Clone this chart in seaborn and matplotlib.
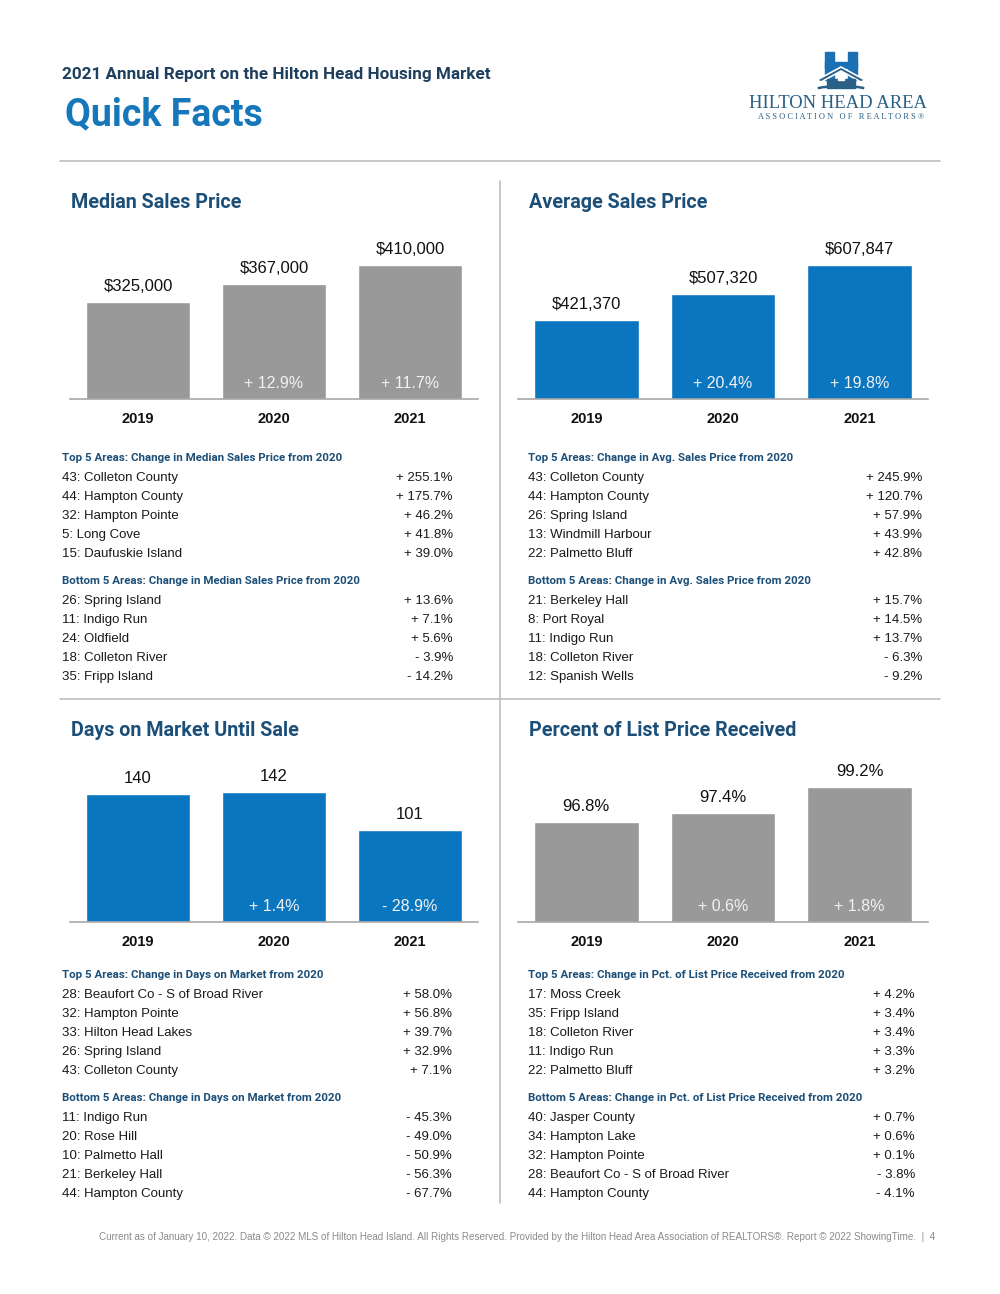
import matplotlib
matplotlib.use("Agg")
import matplotlib.pyplot as plt
import matplotlib.patches as mpatches
import seaborn as sns
import pandas as pd

sns.set_theme(style="white")
plt.rcParams['font.family'] = ['Liberation Sans', 'DejaVu Sans']

# ---------------- data ----------------
years = ["2019", "2020", "2021"]

median_price = [325000, 367000, 410000]
median_price_labels = ["$325,000", "$367,000", "$410,000"]
median_change = ["", "+ 12.9%", "+ 11.7%"]

avg_price = [421370, 507320, 607847]
avg_price_labels = ["$421,370", "$507,320", "$607,847"]
avg_change = ["", "+ 20.4%", "+ 19.8%"]

days_on_market = [140, 142, 101]
days_labels = ["140", "142", "101"]
days_change = ["", "+ 1.4%", "- 28.9%"]

pct_list = [96.8, 97.4, 99.2]
pct_list_labels = ["96.8%", "97.4%", "99.2%"]
pct_change = ["", "+ 0.6%", "+ 1.8%"]

median_top_areas = ["43: Colleton County", "44: Hampton County", "32: Hampton Pointe", "5: Long Cove", "15: Daufuskie Island"]
median_top_vals = ["+ 255.1%", "+ 175.7%", "+ 46.2%", "+ 41.8%", "+ 39.0%"]
median_bot_areas = ["26: Spring Island", "11: Indigo Run", "24: Oldfield", "18: Colleton River", "35: Fripp Island"]
median_bot_vals = ["+ 13.6%", "+ 7.1%", "+ 5.6%", "- 3.9%", "- 14.2%"]

avg_top_areas = ["43: Colleton County", "44: Hampton County", "26: Spring Island", "13: Windmill Harbour", "22: Palmetto Bluff"]
avg_top_vals = ["+ 245.9%", "+ 120.7%", "+ 57.9%", "+ 43.9%", "+ 42.8%"]
avg_bot_areas = ["21: Berkeley Hall", "8: Port Royal", "11: Indigo Run", "18: Colleton River", "12: Spanish Wells"]
avg_bot_vals = ["+ 15.7%", "+ 14.5%", "+ 13.7%", "- 6.3%", "- 9.2%"]

dom_top_areas = ["28: Beaufort Co - S of Broad River", "32: Hampton Pointe", "33: Hilton Head Lakes", "26: Spring Island", "43: Colleton County"]
dom_top_vals = ["+ 58.0%", "+ 56.8%", "+ 39.7%", "+ 32.9%", "+ 7.1%"]
dom_bot_areas = ["11: Indigo Run", "20: Rose Hill", "10: Palmetto Hall", "21: Berkeley Hall", "44: Hampton County"]
dom_bot_vals = ["- 45.3%", "- 49.0%", "- 50.9%", "- 56.3%", "- 67.7%"]

plp_top_areas = ["17: Moss Creek", "35: Fripp Island", "18: Colleton River", "11: Indigo Run", "22: Palmetto Bluff"]
plp_top_vals = ["+ 4.2%", "+ 3.4%", "+ 3.4%", "+ 3.3%", "+ 3.2%"]
plp_bot_areas = ["40: Jasper County", "34: Hampton Lake", "32: Hampton Pointe", "28: Beaufort Co - S of Broad River", "44: Hampton County"]
plp_bot_vals = ["+ 0.7%", "+ 0.6%", "+ 0.1%", "- 3.8%", "- 4.1%"]

# ---------------- styling ----------------
W, H = 1000, 1294
BLUE_BAR = "#0b76c0"
GRAY_BAR = "#999999"
TITLE_NAVY = "#1c4f78"
HEAD_NAVY = "#1e3f5e"
QF_BLUE = "#1677bb"
LOGO_BLUE = "#1a70b2"
LOGO_DARK = "#2a5f86"
LINE_GRAY = "#bdbdbd"
COND = ['Roboto', 'DejaVu Sans']
SERIF = ['Liberation Serif', 'DejaVu Serif']

fig = plt.figure(figsize=(W / 100, H / 100), dpi=100)
fig.patch.set_facecolor("white")


def px_axes(x0, y0, x1, y1):
    return fig.add_axes([x0 / W, 1 - y1 / H, (x1 - x0) / W, (y1 - y0) / H])


def ftext(x, y, s, **kw):
    fig.text(x / W, 1 - y / H, s, **kw)


# header
ftext(62, 75, "2021 Annual Report on the Hilton Head Housing Market", fontsize=12.3,
      fontweight="bold", color=HEAD_NAVY, va="center", ha="left", family=COND)
ftext(65, 115, "Quick Facts", fontsize=27, fontweight="bold", color=QF_BLUE,
      va="center", ha="left", family=COND)

# logo + dividers (decoration layer in pixel coordinates)
lg = fig.add_axes([0, 0, 1, 1], zorder=-1)
lg.set_xlim(0, W)
lg.set_ylim(H, 0)
lg.axis("off")
lg.add_patch(mpatches.Rectangle((825, 52), 9, 28, color=LOGO_BLUE))
lg.add_patch(mpatches.Rectangle((848, 52), 9, 28, color=LOGO_BLUE))
lg.add_patch(mpatches.Rectangle((825, 62), 32, 6, color=LOGO_BLUE))
lg.add_patch(mpatches.Polygon([(817, 80), (841, 67), (865, 80), (861, 82), (841, 71), (821, 82)],
                              facecolor=LOGO_DARK, edgecolor="white", lw=1.2))
lg.add_patch(mpatches.Rectangle((827, 79), 28, 9, color=LOGO_DARK))
lg.add_patch(mpatches.Rectangle((838, 76), 6, 4, color="white"))
lg.add_patch(mpatches.Arc((841, 99), 84, 26, theta1=205, theta2=335, color=LOGO_DARK, lw=1.8))
lg.text(749, 103, "HILTON HEAD AREA", fontsize=13.4, color=LOGO_DARK, ha="left", va="center",
        family=SERIF)
lg.text(841, 117, "A S S O C I A T I O N   O F   R E A L T O R S ®", fontsize=6.0, color=LOGO_DARK,
        ha="center", va="center", family=SERIF)

lg.plot([60, 940], [161, 161], color=LINE_GRAY, lw=1.2)
lg.plot([60, 940], [699, 699], color=LINE_GRAY, lw=1.2)
lg.plot([500, 500], [181, 1203], color=LINE_GRAY, lw=1.2)

# footer
ftext(517, 1237, "Current as of January 10, 2022. Data © 2022 MLS of Hilton Head Island. All Rights Reserved. "
      "Provided by the Hilton Head Area Association of REALTORS®. Report © 2022 ShowingTime.  |  4",
      fontsize=7.1, color="#8a8a8a", ha="center", va="center")


def bar_panel(x0, x1, ytop, ybase, values, vlabels, clabels, color, ylim, title, tx, title_y):
    ax = px_axes(x0, ytop, x1, ybase)
    df = pd.DataFrame({"year": years, "value": values})
    sns.barplot(data=df, x="year", y="value", ax=ax, color=color, saturation=1,
                width=0.765, errorbar=None)
    ax.set_xlim(-0.5, 2.5)
    ax.set_ylim(*ylim)
    for sp in ["top", "left", "right"]:
        ax.spines[sp].set_visible(False)
    ax.spines["bottom"].set_color("#a8a8a8")
    ax.spines["bottom"].set_linewidth(1.2)
    ax.set_yticks([])
    ax.set_xlabel("")
    ax.set_ylabel("")
    ax.tick_params(axis="x", length=0, pad=9)
    for t in ax.get_xticklabels():
        t.set_fontweight("bold")
        t.set_fontsize(10.5)
        t.set_color("#111111")
    ax.patch.set_alpha(0)
    for i, (v, lab, ch) in enumerate(zip(values, vlabels, clabels)):
        ax.annotate(lab, (i, v), xytext=(0, 8), textcoords="offset points",
                    ha="center", va="baseline", fontsize=12, color="#111111")
        if ch:
            ax.annotate(ch, (i, ylim[0]), xytext=(0, 8), textcoords="offset points",
                        ha="center", va="baseline", fontsize=11.5, color="#f2f2f2")
    ftext(tx, title_y, title, fontsize=14.2, fontweight="bold", color=TITLE_NAVY,
          va="center", ha="left", family=COND)
    return ax


def table(xl, xr, y_head1, head1, areas1, vals1, y_head2, head2, areas2, vals2):
    for yh, head, areas, vals in [(y_head1, head1, areas1, vals1), (y_head2, head2, areas2, vals2)]:
        ftext(xl, yh + 1, head, fontsize=8.25, fontweight="bold", color=TITLE_NAVY,
              va="center", ha="left", family=COND)
        for k, (a, v) in enumerate(zip(areas, vals)):
            yy = yh + 19 * (k + 1) + 2
            ftext(xl, yy, a, fontsize=9.5, color="#1a1a1a", va="center", ha="left")
            ftext(xr, yy, v, fontsize=9.5, color="#1a1a1a", va="center", ha="right")


bar_panel(70, 478, 230, 399, median_price, median_price_labels, median_change, GRAY_BAR,
          (102000, 490500), "Median Sales Price", 71, 202)
bar_panel(518, 928, 230, 399, avg_price, avg_price_labels, avg_change, BLUE_BAR,
          (153000, 726000), "Average Sales Price", 529, 202)
bar_panel(70, 478, 755, 922, days_on_market, days_labels, days_change, BLUE_BAR,
          (0, 182.7), "Days on Market Until Sale", 71, 730)
bar_panel(518, 928, 755, 922, pct_list, pct_list_labels, pct_change, GRAY_BAR,
          (89.94, 101.4), "Percent of List Price Received", 529, 730)

table(62, 453, 457, "Top 5 Areas: Change in Median Sales Price from 2020", median_top_areas, median_top_vals,
      580, "Bottom 5 Areas: Change in Median Sales Price from 2020", median_bot_areas, median_bot_vals)
table(528, 922, 457, "Top 5 Areas: Change in Avg. Sales Price from 2020", avg_top_areas, avg_top_vals,
      580, "Bottom 5 Areas: Change in Avg. Sales Price from 2020", avg_bot_areas, avg_bot_vals)
table(62, 452, 974, "Top 5 Areas: Change in Days on Market from 2020", dom_top_areas, dom_top_vals,
      1097, "Bottom 5 Areas: Change in Days on Market from 2020", dom_bot_areas, dom_bot_vals)
table(528, 915, 974, "Top 5 Areas: Change in Pct. of List Price Received from 2020", plp_top_areas, plp_top_vals,
      1097, "Bottom 5 Areas: Change in Pct. of List Price Received from 2020", plp_bot_areas, plp_bot_vals)

fig.savefig("out.png", dpi=100, facecolor="white")
